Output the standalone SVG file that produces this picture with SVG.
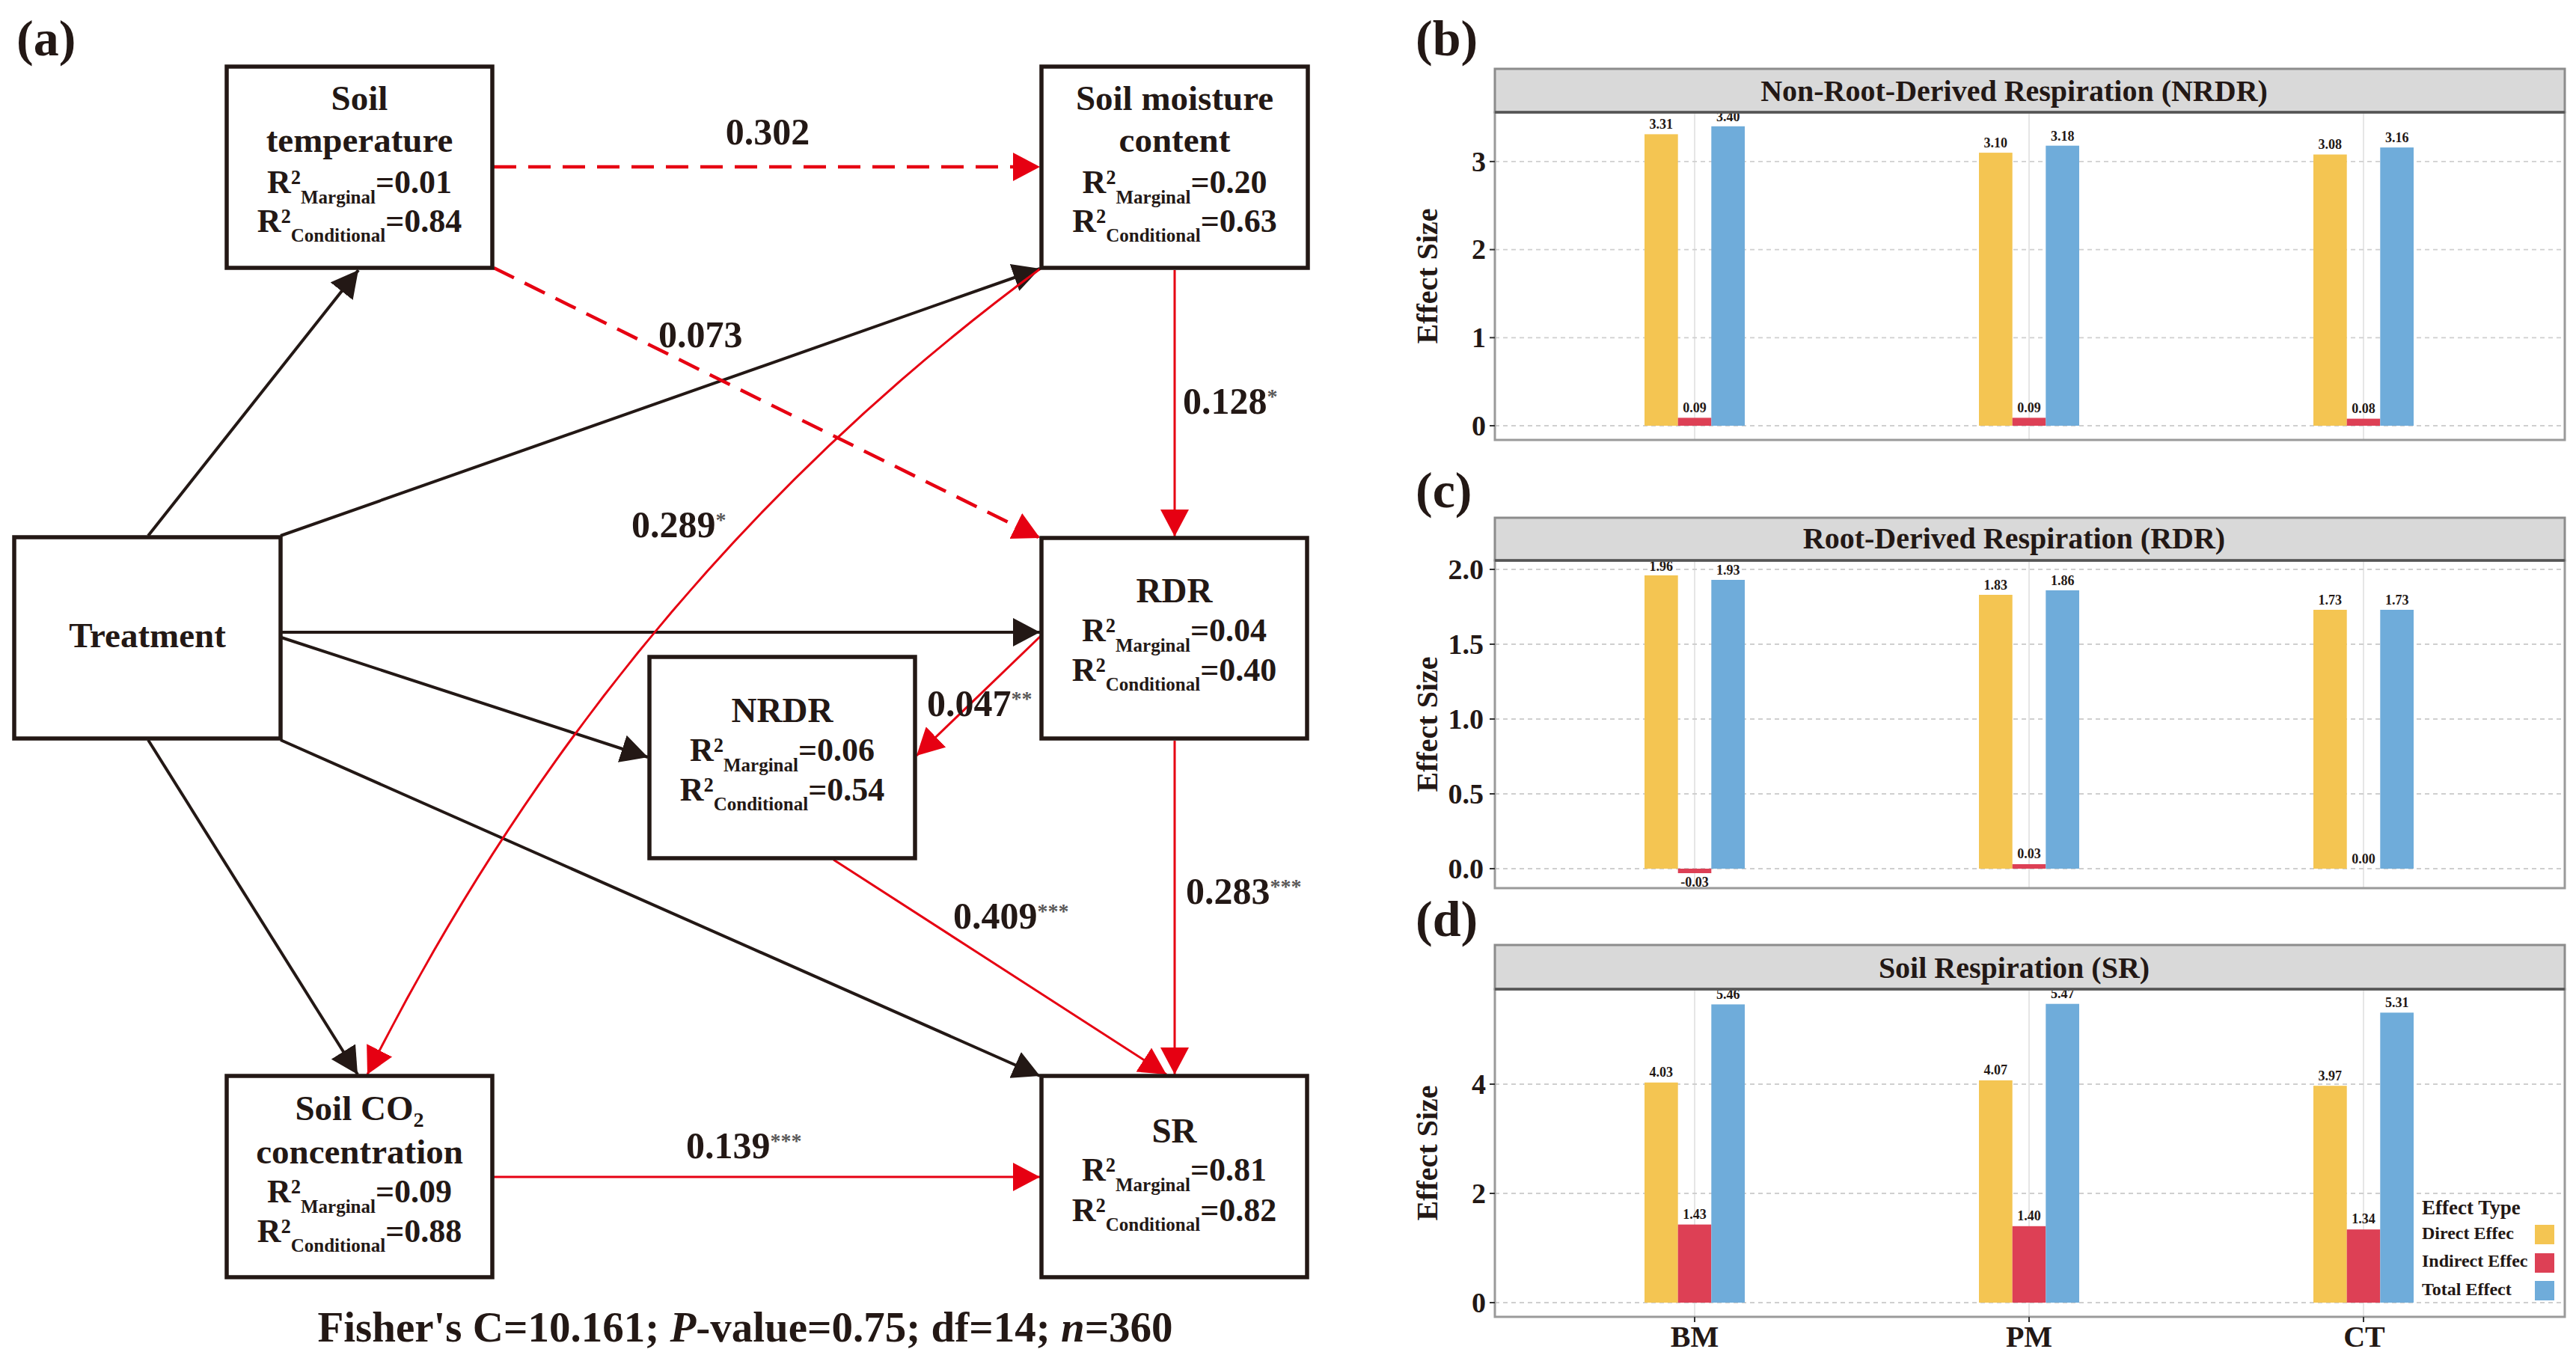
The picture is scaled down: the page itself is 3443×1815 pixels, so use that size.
<svg xmlns="http://www.w3.org/2000/svg" width="3443" height="1815" viewBox="0 0 3443 1815">
<defs>
<style>
.t{font-family:"Liberation Serif","Times New Roman",serif;font-weight:bold;fill:#231815}
.ttl{font-size:47px;text-anchor:middle}
.r{font-size:44px;text-anchor:middle}
.sub{font-size:25px}
.lbl{font-size:50px}
.star{font-size:28px;fill:#595757}
.panel-lbl{font-size:68px}
.box{fill:#fff;stroke:#231815;stroke-width:5.5}
.blk{fill:none;stroke:#231815;stroke-width:4;marker-end:url(#ab)}
.red{fill:none;stroke:#e60012;stroke-width:3;marker-end:url(#ar)}
.dash{fill:none;stroke:#e60012;stroke-width:4.5;stroke-dasharray:30 16;marker-end:url(#ar)}
.strip{fill:#d9d9d9;stroke:#8c8c8c;stroke-width:3}
.stripline{stroke:#555;stroke-width:3.5}
.pborder{fill:none;stroke:#9a9a9a;stroke-width:3}
.hgrid{stroke:#cfcfcf;stroke-width:1.8;stroke-dasharray:6 5}
.vgrid{stroke:#e6e6e6;stroke-width:2}
.tick{stroke:#333;stroke-width:2}
.ytl{font-size:38px;text-anchor:end}
.xtl{font-size:40px;text-anchor:middle}
.axt{font-size:40px;text-anchor:middle}
.strip-t{font-size:40px;text-anchor:middle}
.val{font-size:18px;text-anchor:middle}
.y{fill:#f4c552}
.rd{fill:#dd4055}
.b{fill:#6facda}
.leg-t{font-size:27px}
.leg{font-size:24px}
</style>
<marker id="ab" viewBox="0 0 36 38" refX="36" refY="19" markerWidth="36" markerHeight="38" markerUnits="userSpaceOnUse" orient="auto"><path d="M0,0 L36,19 L0,38 z" fill="#231815"/></marker>
<marker id="ar" viewBox="0 0 36 38" refX="36" refY="19" markerWidth="36" markerHeight="38" markerUnits="userSpaceOnUse" orient="auto"><path d="M0,0 L36,19 L0,38 z" fill="#e60012"/></marker>
</defs>
<rect x="0" y="0" width="3443" height="1815" fill="#fff"/>

<!-- Panel (a) -->
<text class="t panel-lbl" x="22" y="74">(a)</text>

<g id="connectors">
<path class="blk" d="M198,716 L479,361"/>
<path class="blk" d="M375,716 L1390,359"/>
<path class="blk" d="M375,845 L1390,845"/>
<path class="blk" d="M376,852 L866,1012"/>
<path class="blk" d="M198,989 L478,1436"/>
<path class="blk" d="M375,989 L1390,1438"/>
<path class="dash" d="M660,223 L1390,223"/>
<path class="dash" d="M660,358 L1390,719"/>
<path class="red" d="M1570,361 L1570,717"/>
<path class="red" d="M1392,358 Q821,778 491,1436"/>
<path class="red" d="M1391,850 L1225,1010"/>
<path class="red" d="M1570,990 L1570,1436"/>
<path class="red" d="M1114,1149 L1559,1436"/>
<path class="red" d="M660,1573 L1390,1573"/>
</g>

<g id="node-soil-temperature">
<rect class="box" x="303" y="89" width="355" height="269"/>
<text class="t ttl" x="480.5" y="147">Soil</text>
<text class="t ttl" x="480.5" y="203">temperature</text>
<text class="t r" x="480.5" y="258">R²<tspan class="sub" dy="14">Marginal</tspan><tspan dy="-14">=0.01</tspan></text>
<text class="t r" x="480.5" y="310">R²<tspan class="sub" dy="13">Conditional</tspan><tspan dy="-13">=0.84</tspan></text>
</g>

<g id="node-soil-moisture">
<rect class="box" x="1392" y="89" width="356" height="269"/>
<text class="t ttl" x="1570" y="147">Soil moisture</text>
<text class="t ttl" x="1570" y="203">content</text>
<text class="t r" x="1570" y="258">R²<tspan class="sub" dy="14">Marginal</tspan><tspan dy="-14">=0.20</tspan></text>
<text class="t r" x="1570" y="310">R²<tspan class="sub" dy="13">Conditional</tspan><tspan dy="-13">=0.63</tspan></text>
</g>

<g id="node-treatment">
<rect class="box" x="19" y="718" width="356" height="269"/>
<text class="t ttl" x="197" y="865">Treatment</text>
</g>

<g id="node-rdr">
<rect class="box" x="1392" y="719" width="355" height="268"/>
<text class="t ttl" x="1569.5" y="805">RDR</text>
<text class="t r" x="1569.5" y="857">R²<tspan class="sub" dy="14">Marginal</tspan><tspan dy="-14">=0.04</tspan></text>
<text class="t r" x="1569.5" y="910">R²<tspan class="sub" dy="13">Conditional</tspan><tspan dy="-13">=0.40</tspan></text>
</g>

<g id="node-nrdr">
<rect class="box" x="868" y="878" width="355" height="269"/>
<text class="t ttl" x="1045.5" y="965">NRDR</text>
<text class="t r" x="1045.5" y="1017">R²<tspan class="sub" dy="14">Marginal</tspan><tspan dy="-14">=0.06</tspan></text>
<text class="t r" x="1045.5" y="1070">R²<tspan class="sub" dy="13">Conditional</tspan><tspan dy="-13">=0.54</tspan></text>
</g>

<g id="node-soil-co2">
<rect class="box" x="303" y="1438" width="355" height="269"/>
<text class="t ttl" x="480.5" y="1497">Soil CO₂</text>
<text class="t ttl" x="480.5" y="1555">concentration</text>
<text class="t r" x="480.5" y="1607">R²<tspan class="sub" dy="14">Marginal</tspan><tspan dy="-14">=0.09</tspan></text>
<text class="t r" x="480.5" y="1660">R²<tspan class="sub" dy="13">Conditional</tspan><tspan dy="-13">=0.88</tspan></text>
</g>

<g id="node-sr">
<rect class="box" x="1392" y="1438" width="355" height="269"/>
<text class="t ttl" x="1569.5" y="1527">SR</text>
<text class="t r" x="1569.5" y="1578">R²<tspan class="sub" dy="14">Marginal</tspan><tspan dy="-14">=0.81</tspan></text>
<text class="t r" x="1569.5" y="1632">R²<tspan class="sub" dy="13">Conditional</tspan><tspan dy="-13">=0.82</tspan></text>
</g>

<g id="edge-labels">
<text class="t lbl" x="1026" y="193" text-anchor="middle">0.302</text>
<text class="t lbl" x="880" y="464">0.073</text>
<text class="t lbl" x="1581" y="553">0.128<tspan class="star" dy="-14">*</tspan></text>
<text class="t lbl" x="844" y="718">0.289<tspan class="star" dy="-14">*</tspan></text>
<text class="t lbl" x="1239" y="957">0.047<tspan class="star" dy="-14">**</tspan></text>
<text class="t lbl" x="1585" y="1208">0.283<tspan class="star" dy="-14">***</tspan></text>
<text class="t lbl" x="1274" y="1241">0.409<tspan class="star" dy="-14">***</tspan></text>
<text class="t lbl" x="917" y="1548">0.139<tspan class="star" dy="-14">***</tspan></text>
</g>

<text class="t" x="996" y="1793" font-size="57" text-anchor="middle">Fisher's C=10.161; <tspan font-style="italic">P</tspan>-value=0.75; df=14; <tspan font-style="italic">n</tspan>=360</text>

<!-- Panel (b) -->
<g id="panel-b">
<text class="t panel-lbl" x="1892" y="74">(b)</text>
<line class="vgrid" x1="2265" y1="150" x2="2265" y2="588"/>
<line class="vgrid" x1="2712" y1="150" x2="2712" y2="588"/>
<line class="vgrid" x1="3159" y1="150" x2="3159" y2="588"/>
<line class="hgrid" x1="1998" y1="569" x2="3428" y2="569"/>
<line class="hgrid" x1="1998" y1="451.3" x2="3428" y2="451.3"/>
<line class="hgrid" x1="1998" y1="333.6" x2="3428" y2="333.6"/>
<line class="hgrid" x1="1998" y1="215.9" x2="3428" y2="215.9"/>
<rect class="y" x="2198" y="179.4" width="44.7" height="389.6"/>
<rect class="rd" x="2242.7" y="558.4" width="44.6" height="10.6"/>
<rect class="b" x="2287.3" y="168.8" width="44.7" height="400.2"/>
<rect class="y" x="2645" y="204.1" width="44.7" height="364.9"/>
<rect class="rd" x="2689.7" y="558.4" width="44.6" height="10.6"/>
<rect class="b" x="2734.3" y="194.7" width="44.7" height="374.3"/>
<rect class="y" x="3092" y="206.5" width="44.7" height="362.5"/>
<rect class="rd" x="3136.7" y="559.6" width="44.6" height="9.4"/>
<rect class="b" x="3181.3" y="197.1" width="44.7" height="371.9"/>
<text class="t val" x="2220.3" y="172">3.31</text>
<text class="t val" x="2265" y="551">0.09</text>
<text class="t val" x="2309.7" y="162">3.40</text>
<text class="t val" x="2667.3" y="197">3.10</text>
<text class="t val" x="2712" y="551">0.09</text>
<text class="t val" x="2756.7" y="188">3.18</text>
<text class="t val" x="3114.3" y="199">3.08</text>
<text class="t val" x="3159" y="552">0.08</text>
<text class="t val" x="3203.7" y="190">3.16</text>
<rect class="pborder" x="1998" y="150" width="1430" height="438"/>
<rect class="strip" x="1998" y="92" width="1430" height="58"/>
<line class="stripline" x1="1998" y1="150" x2="3428" y2="150"/>
<text class="t strip-t" x="2692" y="135">Non-Root-Derived Respiration (NRDR)</text>
<line class="tick" x1="1991" y1="569" x2="1998" y2="569"/>
<line class="tick" x1="1991" y1="451.3" x2="1998" y2="451.3"/>
<line class="tick" x1="1991" y1="333.6" x2="1998" y2="333.6"/>
<line class="tick" x1="1991" y1="215.9" x2="1998" y2="215.9"/>
<text class="t ytl" x="1986" y="582">0</text>
<text class="t ytl" x="1986" y="464">1</text>
<text class="t ytl" x="1986" y="346">2</text>
<text class="t ytl" x="1986" y="229">3</text>
<text class="t axt" transform="translate(1921,369) rotate(-90)">Effect Size</text>
</g>

<!-- Panel (c) -->
<g id="panel-c">
<text class="t panel-lbl" x="1892" y="678">(c)</text>
<line class="vgrid" x1="2265" y1="749" x2="2265" y2="1187"/>
<line class="vgrid" x1="2712" y1="749" x2="2712" y2="1187"/>
<line class="vgrid" x1="3159" y1="749" x2="3159" y2="1187"/>
<line class="hgrid" x1="1998" y1="1161" x2="3428" y2="1161"/>
<line class="hgrid" x1="1998" y1="1061" x2="3428" y2="1061"/>
<line class="hgrid" x1="1998" y1="961" x2="3428" y2="961"/>
<line class="hgrid" x1="1998" y1="861" x2="3428" y2="861"/>
<line class="hgrid" x1="1998" y1="761" x2="3428" y2="761"/>
<rect class="y" x="2198" y="769" width="44.7" height="392"/>
<rect class="rd" x="2242.7" y="1161" width="44.6" height="6"/>
<rect class="b" x="2287.3" y="775" width="44.7" height="386"/>
<rect class="y" x="2645" y="795" width="44.7" height="366"/>
<rect class="rd" x="2689.7" y="1155" width="44.6" height="6"/>
<rect class="b" x="2734.3" y="789" width="44.7" height="372"/>
<rect class="y" x="3092" y="815" width="44.7" height="346"/>
<rect class="b" x="3181.3" y="815" width="44.7" height="346"/>
<text class="t val" x="2220.3" y="763">1.96</text>
<text class="t val" x="2265" y="1185">-0.03</text>
<text class="t val" x="2309.7" y="768">1.93</text>
<text class="t val" x="2667.3" y="788">1.83</text>
<text class="t val" x="2712" y="1147">0.03</text>
<text class="t val" x="2756.7" y="782">1.86</text>
<text class="t val" x="3114.3" y="808">1.73</text>
<text class="t val" x="3159" y="1154">0.00</text>
<text class="t val" x="3203.7" y="808">1.73</text>
<rect class="pborder" x="1998" y="749" width="1430" height="438"/>
<rect class="strip" x="1998" y="692" width="1430" height="57"/>
<line class="stripline" x1="1998" y1="749" x2="3428" y2="749"/>
<text class="t strip-t" x="2692" y="733">Root-Derived Respiration (RDR)</text>
<line class="tick" x1="1991" y1="1161" x2="1998" y2="1161"/>
<line class="tick" x1="1991" y1="1061" x2="1998" y2="1061"/>
<line class="tick" x1="1991" y1="961" x2="1998" y2="961"/>
<line class="tick" x1="1991" y1="861" x2="1998" y2="861"/>
<line class="tick" x1="1991" y1="761" x2="1998" y2="761"/>
<text class="t ytl" x="1983" y="1174">0.0</text>
<text class="t ytl" x="1983" y="1074">0.5</text>
<text class="t ytl" x="1983" y="974">1.0</text>
<text class="t ytl" x="1983" y="874">1.5</text>
<text class="t ytl" x="1983" y="774">2.0</text>
<text class="t axt" transform="translate(1921,968) rotate(-90)">Effect Size</text>
</g>

<!-- Panel (d) -->
<g id="panel-d">
<text class="t panel-lbl" x="1892" y="1251">(d)</text>
<line class="vgrid" x1="2265" y1="1322" x2="2265" y2="1760"/>
<line class="vgrid" x1="2712" y1="1322" x2="2712" y2="1760"/>
<line class="vgrid" x1="3159" y1="1322" x2="3159" y2="1760"/>
<line class="hgrid" x1="1998" y1="1741" x2="3428" y2="1741"/>
<line class="hgrid" x1="1998" y1="1595" x2="3428" y2="1595"/>
<line class="hgrid" x1="1998" y1="1449" x2="3428" y2="1449"/>
<rect class="y" x="2198" y="1446.8" width="44.7" height="294.2"/>
<rect class="rd" x="2242.7" y="1636.6" width="44.6" height="104.4"/>
<rect class="b" x="2287.3" y="1342.4" width="44.7" height="398.6"/>
<rect class="y" x="2645" y="1443.9" width="44.7" height="297.1"/>
<rect class="rd" x="2689.7" y="1638.8" width="44.6" height="102.2"/>
<rect class="b" x="2734.3" y="1341.7" width="44.7" height="399.3"/>
<rect class="y" x="3092" y="1451.2" width="44.7" height="289.8"/>
<rect class="rd" x="3136.7" y="1643.2" width="44.6" height="97.8"/>
<rect class="b" x="3181.3" y="1353.4" width="44.7" height="387.6"/>
<text class="t val" x="2220.3" y="1439">4.03</text>
<text class="t val" x="2265" y="1629">1.43</text>
<text class="t val" x="2309.7" y="1335">5.46</text>
<text class="t val" x="2667.3" y="1436">4.07</text>
<text class="t val" x="2712" y="1631">1.40</text>
<text class="t val" x="2756.7" y="1334">5.47</text>
<text class="t val" x="3114.3" y="1444">3.97</text>
<text class="t val" x="3159" y="1635">1.34</text>
<text class="t val" x="3203.7" y="1346">5.31</text>
<rect class="pborder" x="1998" y="1322" width="1430" height="438"/>
<rect class="strip" x="1998" y="1263" width="1430" height="59"/>
<line class="stripline" x1="1998" y1="1322" x2="3428" y2="1322"/>
<text class="t strip-t" x="2692" y="1307">Soil Respiration (SR)</text>
<line class="tick" x1="1991" y1="1741" x2="1998" y2="1741"/>
<line class="tick" x1="1991" y1="1595" x2="1998" y2="1595"/>
<line class="tick" x1="1991" y1="1449" x2="1998" y2="1449"/>
<text class="t ytl" x="1986" y="1754">0</text>
<text class="t ytl" x="1986" y="1608">2</text>
<text class="t ytl" x="1986" y="1462">4</text>
<text class="t axt" transform="translate(1921,1541) rotate(-90)">Effect Size</text>
<line class="tick" x1="2265" y1="1760" x2="2265" y2="1767"/>
<line class="tick" x1="2712" y1="1760" x2="2712" y2="1767"/>
<line class="tick" x1="3159" y1="1760" x2="3159" y2="1767"/>
<text class="t xtl" x="2265" y="1800">BM</text>
<text class="t xtl" x="2712" y="1800">PM</text>
<text class="t xtl" x="3160" y="1800">CT</text>
</g>

<g id="legend">
<text class="t leg-t" x="3237" y="1623">Effect Type</text>
<text class="t leg" x="3237" y="1656">Direct Effec</text>
<text class="t leg" x="3237" y="1693">Indirect Effec</text>
<text class="t leg" x="3237" y="1731">Total Effect</text>
<rect class="y" x="3388" y="1637" width="26" height="26"/>
<rect class="rd" x="3388" y="1675" width="26" height="26"/>
<rect class="b" x="3388" y="1712" width="26" height="26"/>
</g>
</svg>
